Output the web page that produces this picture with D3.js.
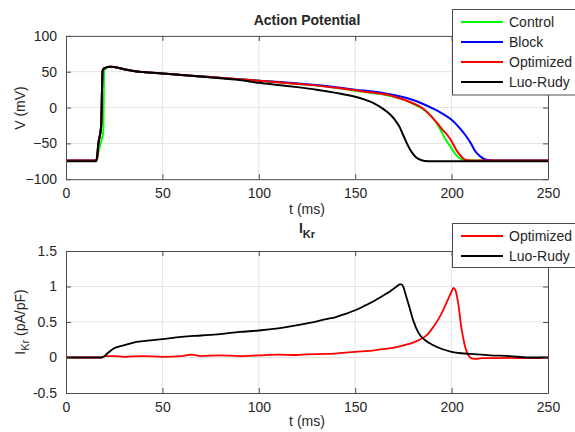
<!DOCTYPE html>
<html><head><meta charset="utf-8">
<script src="https://cdn.jsdelivr.net/npm/d3@7"></script>
<style>body{margin:0;background:#fff}svg{display:block;font-family:"Liberation Sans",Arial,sans-serif}</style>
</head><body><svg id="c" width="575" height="432"></svg>
<script>
// ---- data ----
const apTimes = {
  control:[0,16,17,18.5,19.3,19.8,21,23,25,30,35,40,50,60,75,90,100,116,125,140,150,160,170,175,180,185,188,191,194,197,200,202,204,206,210,250],
  block:[0,16,16.8,18.2,19,20,22.5,25,30,35,40,50,60,75,90,100,116,125,140,150,160,170,180,190,195,200,204,207,210,212,215,218,222,250],
  optimized:[0,16,16.8,18.2,19,20,22.5,25,30,35,40,50,60,75,90,100,116,125,140,150,160,170,180,185,190,193,195,198,200,202,204,206,208,212,250],
  luoRudy:[0,15.6,16.8,18.2,19,20,22.5,25,30,35,40,50,60,75,90,100,110,120,130,140,150,155,160,164,167,170,173,175,177,179,181,183,186,190,250]
};
const apValues = {
  control:[-74,-74,-60,-45,-35,52,55,57,56.5,53.5,51,49.5,47.5,45.5,42.5,39.5,37.5,34,32,27.5,23.5,20,15,11,5,-2,-8,-17,-30,-45,-57,-65,-70.5,-73,-74,-74],
  block:[-74,-74,-50,-27,52,55,57,56.5,53.5,51,49.5,47.5,45.5,42.5,39.5,37.5,34.5,32.5,28.5,25,22,17.5,10.5,-1,-8,-17,-28,-38,-50,-60,-68.5,-73,-74,-74],
  optimized:[-74,-74,-50,-27,52,55,57,56.5,53.5,51,49.5,47.5,45.5,42.5,39.5,37.5,34,32,27.5,24,20.5,15.5,6,-1,-14,-23,-30,-39,-47,-57,-65,-71,-73.5,-74,-74],
  luoRudy:[-75,-75,-50,-27,52,55,57,56.5,53.5,51,49.5,47.5,45.5,42,38.5,34.5,31.5,28.5,25,20.5,15,11,5.5,-1,-7,-15,-27,-39,-51,-61,-68,-72,-74.5,-75,-75]
};
const ikrTimes = {
  optimized:[0,10,18,20,25,30,40,50,60,65,70,80,90,100,110,120,125,135,150,160,165,170,175,180,183,186,188,190,192,194,196,198,200,201,202,203,204,205,206,207,208,209,210,212,216,220,230,240,250],
  luoRudy:[0,10,18.5,22,25,30,35,40,45,50,60,70,75,80,90,100,110,125,135,140,145,150,155,160,165,168,170,172,173,174,175,176,178,180,183,186,190,195,200,205,210,220,230,240,250]
};
const ikrValues = {
  optimized:[0,0,0,0.02,0.02,0.01,0.02,0.01,0.02,0.04,0.02,0.03,0.02,0.03,0.04,0.035,0.045,0.05,0.08,0.1,0.12,0.14,0.17,0.21,0.245,0.29,0.34,0.41,0.49,0.58,0.69,0.81,0.93,0.98,0.95,0.83,0.65,0.43,0.28,0.15,0.07,0.02,-0.01,-0.02,-0.01,-0.01,-0.005,-0.01,0],
  luoRudy:[0,0,0,0.07,0.13,0.17,0.21,0.23,0.245,0.26,0.29,0.31,0.32,0.33,0.36,0.38,0.41,0.48,0.54,0.57,0.615,0.665,0.73,0.8,0.88,0.93,0.97,1.01,1.03,1.03,0.99,0.9,0.72,0.53,0.34,0.25,0.18,0.12,0.08,0.06,0.05,0.03,0.02,0.0,0]
};
const xTicks = [0,50,100,150,200,250];
const apTicks = [-100,-50,0,50,100];
const ikrTicks = [-0.5,0,0.5,1,1.5];
const apNames = ["Control","Block","Optimized","Luo-Rudy"];
const apKeys = ["control","block","optimized","luoRudy"];
const ikrNames = ["Optimized","Luo-Rudy"];
const ikrKeys = ["optimized","luoRudy"];
const colors = {control:"#00ff00",block:"#0000ff",optimized:"#ff0000",luoRudy:"#000000"};

// ---- drawing ----
const svg = d3.select("#c");
const X0 = 66, X1 = 548;
const axisCol = "#4d4d4d", gridCol = "#e3e3e3";
const fs = 14;

function panel(top, bottom, yDomain, yTicks, keys, times, values, fmt, lw) {
  const x = d3.scaleLinear().domain([0,250]).range([X0,X1]);
  const y = d3.scaleLinear().domain(yDomain).range([bottom,top]);
  const g = svg.append("g");
  g.selectAll(".gx").data(xTicks.slice(1,-1)).join("line")
    .attr("x1",d=>x(d)).attr("x2",d=>x(d)).attr("y1",top).attr("y2",bottom)
    .attr("stroke",gridCol).attr("stroke-width",1);
  g.selectAll(".gy").data(yTicks.slice(1,-1)).join("line")
    .attr("x1",X0).attr("x2",X1).attr("y1",d=>y(d)).attr("y2",d=>y(d))
    .attr("stroke",gridCol).attr("stroke-width",1);
  const clipId = "clip"+Math.round(top);
  svg.append("clipPath").attr("id",clipId).append("rect").attr("x",X0).attr("y",top).attr("width",X1-X0).attr("height",bottom-top);
  const lg = g.append("g").attr("clip-path",`url(#${clipId})`);
  const line = d3.line().x(d=>x(d[0])).y(d=>y(d[1])).curve(d3.curveMonotoneX);
  keys.forEach(k=>{
    const pts = times[k].map((t,i)=>[t,values[k][i]]);
    lg.append("path").attr("d",line(pts)).attr("fill","none")
      .attr("stroke",colors[k]).attr("stroke-width",lw).attr("stroke-linejoin","round");
  });
  const ax = g.append("g").attr("transform",`translate(0,${bottom})`)
    .call(d3.axisBottom(x).tickValues(xTicks).tickSizeInner(-5).tickSizeOuter(0).tickPadding(9));
  const ay = g.append("g").attr("transform",`translate(${X0},0)`)
    .call(d3.axisLeft(y).tickValues(yTicks).tickFormat(fmt).tickSizeInner(-5).tickSizeOuter(0).tickPadding(9));
  const at = g.append("g").attr("transform",`translate(0,${top})`)
    .call(d3.axisTop(x).tickValues(xTicks).tickSizeInner(-5).tickSizeOuter(0).tickFormat(""));
  const ar = g.append("g").attr("transform",`translate(${X1},0)`)
    .call(d3.axisRight(y).tickValues(yTicks).tickSizeInner(-5).tickSizeOuter(0).tickFormat(""));
  [ax,ay,at,ar].forEach(a=>{
    a.select(".domain").attr("stroke",axisCol);
    a.selectAll(".tick line").attr("stroke",axisCol);
    a.selectAll("text").attr("fill","#262626").attr("font-size",fs).attr("font-family","Liberation Sans, Arial, sans-serif");
  });
  return {x,y};
}

panel(35.9, 179.2, [-100,100], apTicks, apKeys, apTimes, apValues, d3.format("d"), 2);
panel(251, 393, [-0.5,1.5], ikrTicks, ikrKeys, ikrTimes, ikrValues, d=>String(d), 1.8);

const T = (x,y,txt,opts={}) => svg.append("text").attr("x",x).attr("y",y).attr("text-anchor",opts.anchor||"middle")
  .attr("font-size",opts.size||fs).attr("font-weight",opts.bold?"bold":"normal").attr("fill","#262626").text(txt);
T(307,25,"Action Potential",{bold:true});
T(307,214,"t (ms)");
T(307,426,"t (ms)");
const it = svg.append("text").attr("x",307).attr("y",233).attr("text-anchor","middle").attr("font-weight","bold").attr("font-size",fs).attr("fill","#262626");
it.append("tspan").text("I");
it.append("tspan").attr("dy",5).attr("font-size",11).text("Kr");
svg.append("text").attr("transform","translate(25,108) rotate(-90)").attr("text-anchor","middle").attr("font-size",fs).attr("fill","#262626").text("V (mV)");
const yl = svg.append("text").attr("transform","translate(25,322) rotate(-90)").attr("text-anchor","middle").attr("font-size",fs).attr("fill","#262626");
yl.append("tspan").text("I");
yl.append("tspan").attr("dy",4).attr("font-size",11).text("Kr");
yl.append("tspan").attr("dy",-4).text(" (pA/pF)");

function legend(top, h, names, keys) {
  const g = svg.append("g");
  g.append("rect").attr("x",452.5).attr("y",top).attr("width",140).attr("height",h)
    .attr("fill","#fff").attr("stroke",axisCol).attr("stroke-width",1);
  names.forEach((n,i)=>{
    const yy = top + 12.5 + i*20;
    g.append("line").attr("x1",461).attr("x2",503).attr("y1",yy).attr("y2",yy).attr("stroke",colors[keys[i]]).attr("stroke-width",2);
    g.append("text").attr("x",509).attr("y",yy+5).attr("font-size",fs).attr("fill","#262626").text(n);
  });
}
legend(9.5, 85.5, apNames, apKeys);
legend(223.5, 44, ikrNames, ikrKeys);
</script></body></html>
